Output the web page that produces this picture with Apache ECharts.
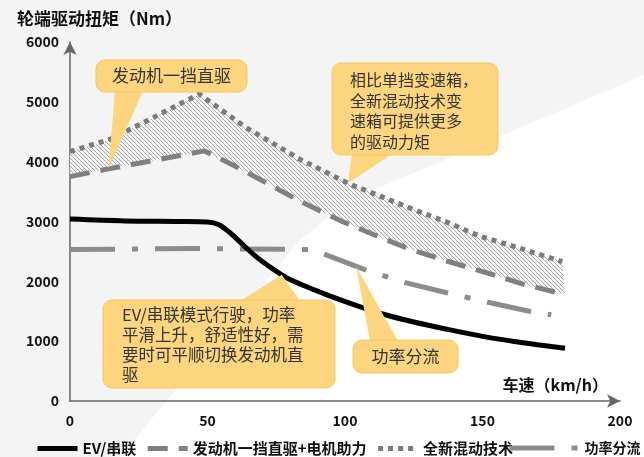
<!DOCTYPE html>
<html>
<head>
<meta charset="utf-8">
<script src="https://cdn.jsdelivr.net/npm/echarts@6/dist/echarts.min.js"></script>
<style>
  html, body { margin: 0; padding: 0; background: #ffffff; }
  #chart { width: 644px; height: 457px; }
</style>
</head>
<body>
<div id="chart"></div>
<script>
// Wheel-end drive torque (Nm) against vehicle speed (km/h)
const FONT = '"Noto Sans CJK SC", "Noto Sans", sans-serif';

const seriesNames = ['EV/串联', '发动机一挡直驱+电机助力', '全新混动技术', '功率分流'];

// EV / series mode
const evSpeed  = [0, 20, 40, 50, 54, 58, 62, 68, 74, 80, 92, 104, 114, 125, 137, 150, 161, 170, 180];
const evTorque = [3040, 3010, 3000, 2990, 2950, 2820, 2650, 2400, 2200, 2030, 1800, 1600, 1450, 1320, 1200, 1080, 1000, 940, 880];

// engine first-gear direct drive + motor assist
const directSpeed  = [0, 14, 49, 59, 70, 84, 99, 113, 124, 137, 151, 165, 180];
const directTorque = [3750, 3880, 4180, 3950, 3680, 3330, 3000, 2730, 2530, 2340, 2150, 1950, 1780];

// new hybrid technology
const hybridSpeed  = [0, 15, 47, 64, 84, 102, 113, 125, 137, 149, 161, 179];
const hybridTorque = [4170, 4380, 5130, 4570, 4030, 3620, 3420, 3200, 2990, 2755, 2590, 2330];

// power split
const splitSpeed  = [0, 45, 88, 107, 121, 137, 152, 167, 175];
const splitTorque = [2530, 2550, 2530, 2200, 1990, 1810, 1650, 1500, 1440];

const xTicks = { min: 0, max: 200, step: 50 };
const yTicks = { min: 0, max: 6000, step: 1000 };

// callout texts and the data point each pointer lands on
const callouts = [
  { lines: ['发动机一挡直驱'], tip: [14, 3880] },
  { lines: ['相比单挡变速箱，', '全新混动技术变', '速箱可提供更多', '的驱动力矩'], tip: [101, 3640] },
  { lines: ['EV/串联模式行驶，功率', '平滑上升，舒适性好，需', '要时可平顺切换发动机直', '驱'], tip: [77, 2110] },
  { lines: ['功率分流'], tip: [104, 2250] }
];

function pairs(xs, ys) { return xs.map((x, i) => [x, ys[i]]); }

// fine diagonal hatch for the gain band
const hatch = document.createElement('canvas');
hatch.width = 4; hatch.height = 4;
(function () {
  const g = hatch.getContext('2d');
  g.fillStyle = '#f6f6f6';
  g.fillRect(0, 0, 4, 4);
  g.strokeStyle = '#a6a6a6';
  g.lineWidth = 1;
  g.beginPath();
  g.moveTo(0, 0); g.lineTo(4, 4);
  g.moveTo(-2, 2); g.lineTo(2, 6);
  g.moveTo(2, -2); g.lineTo(6, 2);
  g.stroke();
})();

const chart = echarts.init(document.getElementById('chart'), null, { renderer: 'canvas' });

const labelStyle = { fontFamily: FONT, fontSize: 14, fontWeight: 'bold', color: '#111' };
const legendText = { fontFamily: FONT, fontSize: 15, fontWeight: 'bold', color: '#111' };
// legend shows only the line sample, no marker on it
const legendMarker = { color: 'rgba(0,0,0,0)', borderColor: 'rgba(0,0,0,0)', borderWidth: 0, opacity: 0 };
const legendLine = { width: 5 };

chart.setOption({
  animation: false,
  backgroundColor: '#ffffff',
  title: {
    text: '轮端驱动扭矩（Nm）',
    left: 12, top: 5,
    textStyle: { fontFamily: FONT, fontSize: 17, fontWeight: 'bold', color: '#111' }
  },
  grid: { left: 70, right: 24, top: 42, bottom: 56 },
  legend: [
    {
      data: seriesNames.slice(0, 3),
      left: 30, top: 436,
      itemWidth: 40, itemHeight: 14, itemGap: 9,
      itemStyle: legendMarker,
      lineStyle: legendLine,
      textStyle: legendText
    },
    {
      data: seriesNames.slice(3),
      left: 502, top: 436,
      itemWidth: 70, itemHeight: 14,
      itemStyle: legendMarker,
      lineStyle: legendLine,
      textStyle: Object.assign({}, legendText, { fontSize: 14 })
    }
  ],
  xAxis: {
    type: 'value',
    min: xTicks.min, max: xTicks.max, interval: xTicks.step,
    name: '车速（km/h）',
    nameLocation: 'end',
    nameGap: 0,
    nameTextStyle: {
      fontFamily: FONT, fontSize: 16, fontWeight: 'bold', color: '#111',
      align: 'right', verticalAlign: 'bottom', padding: [0, 12, 8, 0]
    },
    axisLine: { show: true, symbol: ['none', 'arrow'], symbolSize: [10, 13], lineStyle: { color: '#666', width: 1.5 } },
    axisTick: { show: false },
    splitLine: { show: false },
    axisLabel: Object.assign({ margin: 13 }, labelStyle)
  },
  yAxis: {
    type: 'value',
    min: yTicks.min, max: yTicks.max, interval: yTicks.step,
    axisLine: { show: true, symbol: ['none', 'arrow'], symbolSize: [10, 13], lineStyle: { color: '#666', width: 1.5 } },
    axisTick: { show: false },
    splitLine: { show: false },
    axisLabel: Object.assign({ margin: 11, formatter: (v) => String(v) }, labelStyle)
  },
  series: [
    {
      type: 'custom',
      name: 'band',
      silent: true,
      z: 1,
      data: [[0, 0]],
      renderItem: function (params, api) {
        const upper = hybridSpeed.map((x, i) => api.coord([x, hybridTorque[i]]));
        const lower = directSpeed.map((x, i) => api.coord([x, directTorque[i]])).reverse();
        return {
          type: 'polygon',
          shape: { points: upper.concat(lower) },
          style: { fill: { image: hatch, repeat: 'repeat' }, stroke: null }
        };
      }
    },
    {
      type: 'line', name: seriesNames[0], data: pairs(evSpeed, evTorque),
      smooth: 0.3, symbol: 'none', z: 6,
      itemStyle: { color: '#000000' },
      lineStyle: { color: '#000000', width: 5 }
    },
    {
      type: 'line', name: seriesNames[1], data: pairs(directSpeed, directTorque),
      symbol: 'none', z: 5,
      itemStyle: { color: '#808080' },
      lineStyle: { color: '#808080', width: 5, type: [20, 11], cap: 'butt' }
    },
    {
      type: 'line', name: seriesNames[2], data: pairs(hybridSpeed, hybridTorque),
      symbol: 'none', z: 5,
      itemStyle: { color: '#7b7b7b' },
      lineStyle: { color: '#7b7b7b', width: 5, type: [5, 5], cap: 'butt' }
    },
    {
      type: 'line', name: seriesNames[3], data: pairs(splitSpeed, splitTorque),
      symbol: 'none', z: 5,
      itemStyle: { color: '#8c8c8c' },
      lineStyle: { color: '#8c8c8c', width: 5, type: [45, 17, 6, 17], cap: 'butt' }
    }
  ]
});

// callout boxes: box rectangle, pointer base on one box edge, text placement
const boxLayout = [
  { x: 96,  y: 60,  w: 151, h: 32, base: [115, 143], edge: 'bottom', size: 17, align: 'center', lh: 20 },
  { x: 332, y: 63,  w: 166, h: 92, base: [352, 392], edge: 'bottom', size: 16, align: 'left', tx: 350, ty: 70, lh: 20.5 },
  { x: 103, y: 300, w: 232, h: 88, base: [240, 300], edge: 'top',    size: 16.5, align: 'left', tx: 122, ty: 305, lh: 20 },
  { x: 353, y: 340, w: 105, h: 33, base: [370, 398], edge: 'top',    size: 17, align: 'center', lh: 20 }
];

const BOX_FILL = '#fdd57e';
const elements = [
  {
    type: 'polygon', z: -10, silent: true,
    shape: { points: [[0, 0], [644, 0], [644, 75], [350, 200], [300, 240], [120, 457], [0, 457]] },
    style: { fill: '#f4f4f4' }
  }
];

callouts.forEach((c, i) => {
  const b = boxLayout[i];
  const tip = chart.convertToPixel({ xAxisIndex: 0, yAxisIndex: 0 }, c.tip);
  const ey = b.edge === 'bottom' ? b.y + b.h - 1 : b.y + 1;
  elements.push({
    type: 'polygon', z: 50, silent: true,
    shape: { points: [[b.base[0], ey], tip, [b.base[1], ey]] },
    style: { fill: BOX_FILL }
  });
  elements.push({
    type: 'rect', z: 50, silent: true,
    shape: { x: b.x, y: b.y, width: b.w, height: b.h, r: 9 },
    style: { fill: BOX_FILL, stroke: '#f2c766', lineWidth: 1 }
  });
  const centered = b.align === 'center';
  elements.push({
    type: 'text', z: 51, silent: true,
    style: {
      text: c.lines.join('\n'),
      x: centered ? b.x + b.w / 2 : b.tx,
      y: centered ? b.y + b.h / 2 : b.ty,
      align: centered ? 'center' : 'left',
      verticalAlign: centered ? 'middle' : 'top',
      font: b.size + 'px ' + FONT,
      lineHeight: b.lh,
      fill: '#333333'
    }
  });
});

chart.setOption({ graphic: { elements: elements } });
</script>
</body>
</html>
